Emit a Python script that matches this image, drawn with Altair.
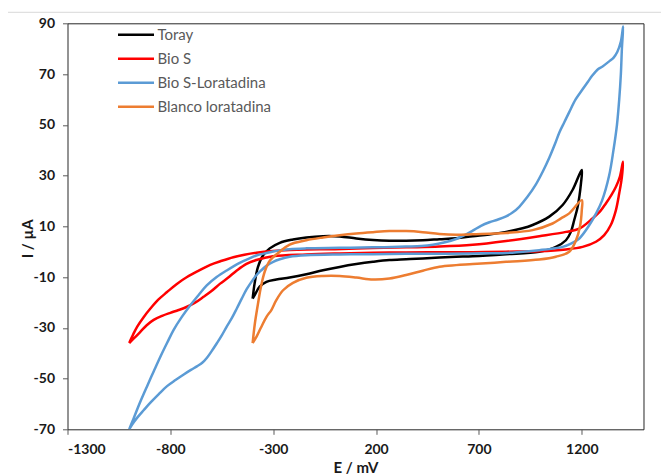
import altair as alt
import pandas as pd

SERIES = ["Toray", "Bio S", "Bio S-Loratadina", "Blanco loratadina"]
COLORS = ["#000000", "#FF0000", "#5B9BD5", "#ED7D31"]

X_TICKS = [-1300, -800, -300, 200, 700, 1200]
Y_TICKS = [-70, -50, -30, -10, 10, 30, 50, 70, 90]

TORAY_E = [-400, -390, -374, -349, -317, -268, -204, -139, -58, 23, 104, 185, 265, 346, 427, 508, 589, 670, 750, 832,
           912, 961, 1042, 1107, 1155, 1200, 1196, 1180, 1163, 1147, 1123, 1074, 993, 832, 670, 589, 508, 427, 346, 265,
           185, 104, 23, -58, -139, -220, -285, -333, -366, -390, -400]
TORAY_I = [-18.5, -12.3, -6.0, -1.4, 1.3, 3.5, 4.8, 5.6, 6.1, 6.0, 5.2, 4.6, 4.3, 4.3, 4.5, 4.9, 5.3, 6.1, 6.8, 7.8,
           9.2, 10.5, 13.8, 18.4, 24.3, 32.2, 26.9, 17.7, 12.4, 7.8, 4.5, 1.9, 0.0, -1.0, -1.8, -2.0, -2.3, -2.7, -3.0, -3.3,
           -4.0, -4.9, -6.0, -7.3, -8.9, -10.2, -11.0, -11.9, -13.8, -17.1, -18.5]

BIOS_E = [-1000, -980, -961, -930, -897, -860, -816, -770, -719, -660, -606, -550, -494, -440, -382, -301, -220, -139, 0, 185,
          346, 508, 670, 832, 993, 1123, 1188, 1252, 1290, 1317, 1345, 1366, 1385, 1400, 1395, 1382, 1366, 1341, 1309, 1269,
          1204, 1123, 993, 832, 670, 508, 346, 185, 23, -139, -301, -382, -430, -477, -520, -558, -600, -639, -680, -719,
          -760, -800, -840, -881, -915, -945, -975, -1000]
BIOS_I = [-36, -32.5, -29.5, -25.8, -22.4, -19.0, -15.9, -12.8, -10.0, -7.4, -5.2, -3.6, -2.2, -1.2, -0.4, 0.3, 0.7, 0.9, 1.0, 1.4,
          1.7, 2.0, 2.7, 4.2, 6.1, 7.8, 9.1, 13.1, 16.0, 19.0, 22.5, 25.6, 29.5, 35.4, 29.5, 23.0, 16.4, 10.5, 6.5, 3.9,
          1.9, 0.9, 0.2, 0.0, -0.2, -0.2, -0.3, -0.4, -0.7, -1.1, -1.8, -3.3, -4.8, -7.4, -10.3, -12.6, -15.5, -17.8, -20.1, -21.7,
          -23.0, -24.1, -25.3, -26.9, -29.0, -31.5, -34.0, -36]

BIOSLOR_E = [-1000, -980, -961, -940, -913, -880, -848, -815, -784, -745, -703, -660, -623, -575, -526, -463, -420, -382, -332, -301,
             -268, -220, -139, 23, 185, 346, 420, 476, 530, 589, 630, 670, 710, 751, 790, 832, 865, 896, 935, 977,
             1010, 1042, 1070, 1091, 1115, 1139, 1170, 1204, 1230, 1252, 1280, 1301, 1333, 1355, 1373, 1390, 1401, 1395, 1390, 1382,
             1371, 1354, 1333, 1298, 1269, 1233, 1188, 1150, 1107, 1050, 993, 900, 832, 670, 508, 346, 185, 23, -139, -220,
             -268, -300, -333, -360, -382, -405, -429, -453, -477, -500, -526, -550, -574, -600, -623, -645, -671, -700, -735, -775,
             -816, -855, -897, -930, -961, -985, -1000]
BIOSLOR_I = [-70, -66, -62.1, -58, -53, -47, -41.3, -35.8, -30.8, -25.8, -21.1, -16.8, -13.3, -10, -7.4, -4.4, -2.8, -1.5, -0.5, 0.1,
             0.5, 1.0, 1.3, 1.5, 1.7, 2.0, 2.2, 2.7, 3.6, 5.0, 6.5, 8.3, 10.2, 11.6, 12.6, 13.9, 15.5, 17.7, 21.5, 26.5,
             31.5, 37, 42.5, 47, 51, 55, 60, 64, 67, 69.5, 72, 73, 75, 76.5, 78.8, 82.8, 88.7, 80, 70, 60,
             50, 40, 30, 20, 15, 10, 5.2, 3.3, 1.9, 1.1, 0.6, -0.1, -0.5, -0.7, -0.8, -0.8, -1.0, -1.1, -1.4, -2.0,
             -3.0, -4.0, -5.6, -7.5, -9.3, -11.8, -14.8, -18.5, -22.4, -26, -29.5, -33, -36.1, -39.3, -41.9, -43.8, -45.2, -46.6, -48.4, -50.6,
             -53, -56, -59.5, -62.5, -65.4, -68, -70]

BLANCO_E = [-400, -389, -373, -360, -341, -316, -268, -220, -139, -58, 23, 104, 185, 265, 346, 427, 508, 589, 670, 832,
            961, 1058, 1099, 1139, 1200, 1200, 1191, 1172, 1139, 1074, 993, 832, 670, 589, 508, 427, 346, 265, 185, 104,
            23, -58, -139, -204, -252, -285, -309, -332, -360, -381, -400]
BLANCO_I = [-36, -28.2, -20, -14, -7.8, -3.5, 0, 2.8, 4.5, 5.6, 6.5, 7.2, 7.7, 8.1, 8.1, 7.7, 7.0, 6.7, 6.9, 7.4,
            8.5, 11.1, 13.1, 15.1, 20.3, 16.4, 9.8, 4.5, 0, -2, -3.1, -4, -4.9, -5.3, -5.9, -7.5, -9.2, -10.6, -11, -10.2,
            -9.6, -9.6, -10.3, -12.3, -15.2, -19.1, -23, -25.6, -30, -33.5, -36]

rows = []
for name, e_vals, i_vals in [(SERIES[0], TORAY_E, TORAY_I), (SERIES[1], BIOS_E, BIOS_I),
                             (SERIES[2], BIOSLOR_E, BIOSLOR_I), (SERIES[3], BLANCO_E, BLANCO_I)]:
    for k, (e, i) in enumerate(zip(e_vals, i_vals)):
        rows.append({"serie": name, "E": e, "I": i, "k": k})
df = pd.DataFrame(rows)

lines = alt.Chart(df).mark_line(interpolate="catmull-rom", strokeWidth=2.5, clip=True).encode(
    x=alt.X("E:Q", scale=alt.Scale(domain=[-1300, 1500], nice=False, zero=False),
            axis=alt.Axis(values=X_TICKS, title="E / mV", titleY=31, titleBaseline="top",
                          labelExpr="'' + datum.value")),
    y=alt.Y("I:Q", scale=alt.Scale(domain=[-70, 90], nice=False, zero=False),
            axis=alt.Axis(values=Y_TICKS, title="I / µA", titleAngle=270, titleX=-40, titleY=215,
                          titleAlign="center", titleBaseline="middle",
                          labelExpr="'' + datum.value")),
    color=alt.Color("serie:N", scale=alt.Scale(domain=SERIES, range=COLORS),
                    legend=alt.Legend(title=None, orient="none", legendX=61, legendY=4,
                                      symbolType="M-3,0H3", symbolSize=144, symbolStrokeWidth=2.5,
                                      labelOffset=14, labelFont="Lato", labelFontSize=15,
                                      labelColor="#595959", rowPadding=8, padding=0)),
    detail="serie:N",
    order="k:Q",
)

topline = alt.Chart(pd.DataFrame({"a": [0]})).mark_rule(color="#d9d9d9", strokeWidth=1, clip=False).encode(
    x=alt.value(-59.5), x2=alt.value(600), y=alt.value(-11))

chart = alt.layer(topline, lines).properties(
    width=576, height=406,
    autosize=alt.AutoSizeParams(type="none"),
    padding={"left": 67.5, "top": 23.3, "right": 17, "bottom": 47},
    background="white",
).configure_view(stroke="#262626", strokeWidth=1).configure_axis(
    domain=False, grid=False, ticks=True, tickSize=5, tickColor="#595959",
    labelFont="Lato", labelFontWeight="bold", labelFontSize=14, labelColor="#1a1a1a", labelPadding=8,
    titleFont="Lato", titleFontWeight="bold", titleFontSize=15, titleColor="#1a1a1a",
)

chart.save("out.html", embed_options={"renderer": "svg", "actions": False})
